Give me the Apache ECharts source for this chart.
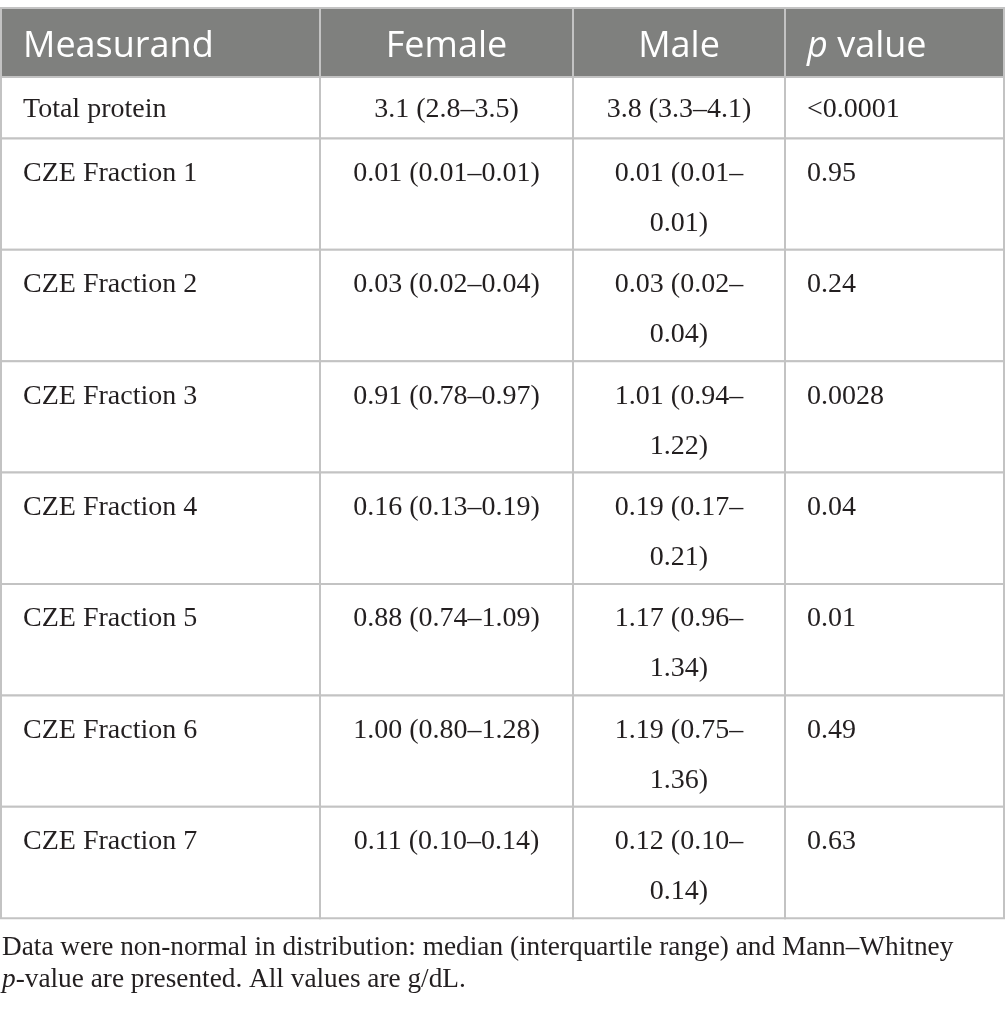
<!DOCTYPE html>
<html>
<head>
<meta charset="utf-8">
<script src="https://cdn.jsdelivr.net/npm/echarts@6/dist/echarts.min.js"></script>
<style>
  html, body { margin: 0; padding: 0; background: #fff; }
  #chart { width: 1005px; height: 1012px; }
</style>
</head>
<body>
<div id="chart"></div>
<script>
// table content
const headers = ['Measurand', 'Female', 'Male', 'p value'];
const measurands = ['Total protein', 'CZE Fraction 1', 'CZE Fraction 2', 'CZE Fraction 3',
  'CZE Fraction 4', 'CZE Fraction 5', 'CZE Fraction 6', 'CZE Fraction 7'];
const female = ['3.1 (2.8–3.5)', '0.01 (0.01–0.01)', '0.03 (0.02–0.04)', '0.91 (0.78–0.97)',
  '0.16 (0.13–0.19)', '0.88 (0.74–1.09)', '1.00 (0.80–1.28)', '0.11 (0.10–0.14)'];
const male = ['3.8 (3.3–4.1)', '0.01 (0.01–0.01)', '0.03 (0.02–0.04)', '1.01 (0.94–1.22)',
  '0.19 (0.17–0.21)', '1.17 (0.96–1.34)', '1.19 (0.75–1.36)', '0.12 (0.10–0.14)'];
const pValues = ['<0.0001', '0.95', '0.24', '0.0028', '0.04', '0.01', '0.49', '0.63'];
const footnote = [
  'Data were non-normal in distribution: median (interquartile range) and Mann–Whitney',
  'p-value are presented. All values are g/dL.'
];

// layout
const W = 1005, H = 1012;
const colEdges = [1, 320, 573, 785, 1004];
const colAlign = ['left', 'center', 'center', 'left'];
const pad = 22;
const headerTop = 8, headerBottom = 77;
const lineH = 50, rowExtra = 11.4;
const bodyFont = '28px "Liberation Serif"';

const ctx = document.createElement('canvas').getContext('2d');
function textWidth(s, font) {
  ctx.font = font;
  return ctx.measureText(s).width;
}

// break a cell text after an en dash or at a space when it does not fit
function wrap(s, maxW) {
  const lines = [];
  let rest = s;
  while (textWidth(rest, bodyFont) > maxW) {
    let cut = -1, skip = 0;
    for (let i = 1; i < rest.length; i++) {
      let head = null, sk = 0;
      if (rest[i - 1] === '–') { head = rest.slice(0, i); }
      else if (rest[i] === ' ') { head = rest.slice(0, i); sk = 1; }
      if (head !== null && textWidth(head, bodyFont) <= maxW) { cut = i; skip = sk; }
    }
    if (cut < 0) break;
    lines.push(rest.slice(0, cut));
    rest = rest.slice(cut + skip);
  }
  lines.push(rest);
  return lines;
}

const columns = [measurands, female, male, pValues];
const cells = [];
const rowTops = [headerTop, headerBottom];
const rowLines = [1];
headers.forEach((h, c) => cells.push([c, 0, h]));
measurands.forEach((m, r) => {
  let n = 1;
  columns.forEach((col, c) => {
    const lines = wrap(col[r], colEdges[c + 1] - colEdges[c] - 2 * pad);
    n = Math.max(n, lines.length);
    cells.push([c, r + 1, lines.join('\n')]);
  });
  rowLines.push(n);
  rowTops.push(rowTops[rowTops.length - 1] + rowExtra + lineH * n);
});

function renderCell(params, api) {
  const c = api.value(0), r = api.value(1);
  const text = cells[params.dataIndex][2];
  const p0 = api.coord([colEdges[c], rowTops[r]]);
  const p1 = api.coord([colEdges[c + 1], rowTops[r + 1]]);
  const isHead = r === 0;
  const tx = colAlign[c] === 'left' ? p0[0] + pad : (p0[0] + p1[0]) / 2;
  const textTop = rowLines[r] > 1 ? 10 : 7.5;
  const label = isHead && c === 3 ? '{i|p} value' : text;
  return {
    type: 'group',
    children: [
      {
        type: 'rect',
        shape: { x: p0[0], y: p0[1], width: p1[0] - p0[0], height: p1[1] - p0[1] },
        style: { fill: isHead ? '#7f807e' : '#fff', stroke: '#c3c3c3', lineWidth: 2 }
      },
      {
        type: 'text',
        style: isHead ? {
          text: label, x: tx, y: (p0[1] + p1[1]) / 2 + 4,
          align: colAlign[c], verticalAlign: 'middle',
          fill: '#fff', fontFamily: 'Open Sans', fontSize: 36,
          rich: { i: { fontStyle: 'italic', fontFamily: 'Open Sans', fontSize: 36, fill: '#fff' } }
        } : {
          text: label, x: tx, y: p0[1] + textTop,
          align: colAlign[c], verticalAlign: 'top', lineHeight: lineH,
          fill: '#231f20', fontFamily: 'Liberation Serif', fontSize: 28
        }
      }
    ]
  };
}

const chart = echarts.init(document.getElementById('chart'));
chart.setOption({
  animation: false,
  title: {
    left: 2, top: 932, padding: 0,
    text: footnote[0] + '\n{i|p}' + footnote[1].slice(1),
    textStyle: {
      fontFamily: 'Liberation Serif', fontSize: 27.3, fontWeight: 'normal',
      color: '#231f20', lineHeight: 31.6,
      rich: { i: { fontStyle: 'italic', fontFamily: 'Liberation Serif', fontSize: 27.3, lineHeight: 31.6, color: '#231f20' } }
    }
  },
  grid: { left: 0, right: 0, top: 0, bottom: 0 },
  xAxis: { type: 'value', min: 0, max: W, show: false },
  yAxis: { type: 'value', min: 0, max: H, inverse: true, show: false },
  series: [{
    type: 'custom',
    renderItem: renderCell,
    data: cells.map(d => [d[0], d[1]]),
    silent: true
  }]
});
</script>
</body>
</html>
